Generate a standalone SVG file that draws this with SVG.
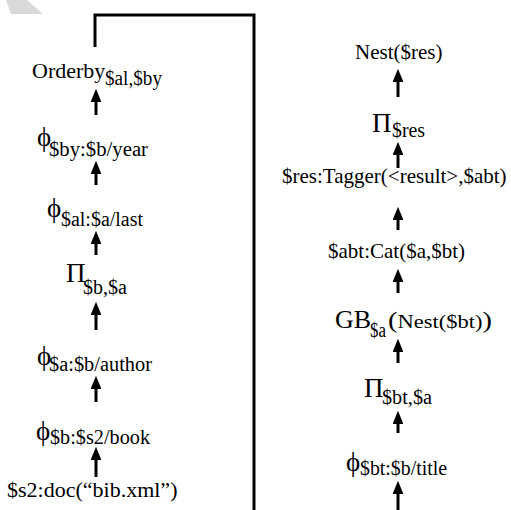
<svg xmlns="http://www.w3.org/2000/svg" width="511" height="510" viewBox="0 0 511 510">
<style>
text{font-family:"Liberation Serif","Times New Roman",serif;fill:#000}
.m{font-size:21px}
.s{font-size:20px}
.g{font-size:27px}
.p{font-size:27px}
.conn line{stroke:#000;stroke-width:3}
</style>
<defs>
<marker id="ah" markerWidth="4.4" markerHeight="3.6" refX="2" refY="1.8" orient="auto" markerUnits="strokeWidth" viewBox="0 0 4.4 3.6">
<path d="M0,0 L4.4,1.8 L0,3.6 z" fill="#000"/>
</marker>
</defs>
<rect width="511" height="510" fill="#fff"/>
<polygon points="6,0 27,0 43,14 11,14" fill="#d9d9d9"/>
<g id="connectors" class="conn">
<polyline points="95,47 95,15 254,15 254,510" fill="none" stroke="#000" stroke-width="3"/>
<line x1="96" y1="115" x2="96" y2="96" marker-end="url(#ah)"/>
<line x1="96" y1="185" x2="96" y2="168" marker-end="url(#ah)"/>
<line x1="96" y1="255" x2="96" y2="238" marker-end="url(#ah)"/>
<line x1="96" y1="330" x2="96" y2="309" marker-end="url(#ah)"/>
<line x1="96" y1="402" x2="96" y2="383" marker-end="url(#ah)"/>
<line x1="96" y1="477" x2="96" y2="454" marker-end="url(#ah)"/>
<line x1="398" y1="97" x2="398" y2="76" marker-end="url(#ah)"/>
<line x1="398" y1="168" x2="398" y2="149" marker-end="url(#ah)"/>
<line x1="398" y1="230" x2="398" y2="214" marker-end="url(#ah)"/>
<line x1="398" y1="293" x2="398" y2="276" marker-end="url(#ah)"/>
<line x1="398" y1="363" x2="398" y2="346" marker-end="url(#ah)"/>
<line x1="398" y1="433" x2="398" y2="418" marker-end="url(#ah)"/>
<line x1="398" y1="512" x2="398" y2="488" marker-end="url(#ah)"/>
</g>
<g id="orderby"><text x="32" y="78" font-size="22">Orderby</text><text x="105" y="85" class="s" textLength="57" lengthAdjust="spacingAndGlyphs">$al,$by</text></g>
<g id="phi-year"><text x="37" y="146" class="g">ϕ</text><text x="49" y="156" class="s" textLength="99" lengthAdjust="spacingAndGlyphs">$by:$b/year</text></g>
<g id="phi-last"><text x="47" y="217" class="g">ϕ</text><text x="61" y="226" class="s" textLength="82" lengthAdjust="spacingAndGlyphs">$al:$a/last</text></g>
<g id="pi-ba"><text x="66" y="282" class="p">Π</text><text x="83" y="294" class="s" textLength="44" lengthAdjust="spacingAndGlyphs">$b,$a</text></g>
<g id="phi-author"><text x="37" y="365" class="g">ϕ</text><text x="49" y="371" class="s" textLength="103" lengthAdjust="spacingAndGlyphs">$a:$b/author</text></g>
<g id="phi-book"><text x="36" y="440" class="g">ϕ</text><text x="50" y="444" class="s" textLength="100" lengthAdjust="spacingAndGlyphs">$b:$s2/book</text></g>
<g id="doc"><text x="7" y="497" font-size="22">$s2:doc(“bib.xml”)</text></g>
<g id="nest-res"><text x="355" y="59" class="m">Nest($res)</text></g>
<g id="pi-res"><text x="372" y="132" class="p">Π</text><text x="392" y="137" class="s" textLength="33" lengthAdjust="spacingAndGlyphs">$res</text></g>
<g id="tagger"><text x="282" y="183" class="m">$res:Tagger(&lt;result&gt;,$abt)</text></g>
<g id="cat"><text x="328" y="258" class="m">$abt:Cat($a,$bt)</text></g>
<g id="gb"><text x="335" y="328" font-size="26">GB</text><text x="370" y="337" class="s" textLength="16" lengthAdjust="spacingAndGlyphs">$a</text><text x="388" y="328" textLength="104" lengthAdjust="spacingAndGlyphs"><tspan font-size="24">(</tspan><tspan font-size="19">Nest($bt)</tspan><tspan font-size="24">)</tspan></text></g>
<g id="pi-bta"><text x="364" y="397" class="p">Π</text><text x="382" y="404" class="s" textLength="50" lengthAdjust="spacingAndGlyphs">$bt,$a</text></g>
<g id="phi-title"><text x="346" y="471" class="g">ϕ</text><text x="360" y="475" class="s" textLength="87" lengthAdjust="spacingAndGlyphs">$bt:$b/title</text></g>
</svg>
